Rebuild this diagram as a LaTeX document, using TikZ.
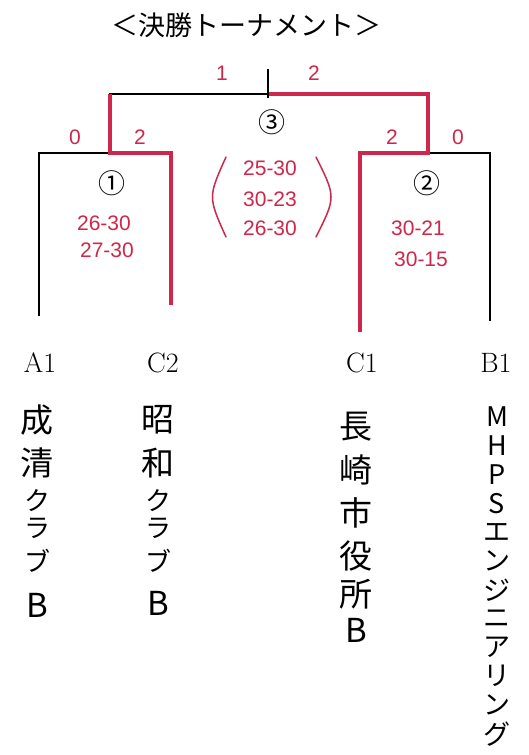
\documentclass[tikz,border=0pt]{standalone}
\usepackage{fontspec}
\newfontfamily\jp{Noto Sans CJK JP}
\newfontfamily\hand{Liberation Sans}
\definecolor{redpen}{RGB}{205,40,75}
\begin{document}
\begin{tikzpicture}[x=1pt,y=-1pt,
  blk/.style={line width=2pt, black, line join=miter},
  win/.style={line width=4pt, redpen, line join=miter},
  score/.style={text=redpen, font=\hand\fontsize{21}{23}\selectfont, inner sep=0pt},
  circ/.style={font=\jp\fontsize{27}{29}\selectfont, inner sep=0pt},
  team/.style={font=\fontsize{28}{30}\selectfont, inner sep=0pt},
  namech/.style={font=\jp\fontsize{33}{35}\selectfont, inner sep=0pt},
  kana/.style={font=\jp\fontsize{26}{28}\selectfont, inner sep=0pt},
  namesm/.style={font=\jp\fontsize{27}{29}\selectfont, inner sep=0pt},
  paren/.style={redpen, line width=1.5pt, line cap=round}]
\useasboundingbox (0,0) rectangle (528,755);
\fill[white] (0,0) rectangle (528,755);

% title
\node[font=\jp\fontsize{27}{30}\selectfont, inner sep=0pt] (title) at (246,25) {＜決勝トーナメント＞};

% bracket coordinates
\coordinate (m1L) at (39,153);
\coordinate (m1R) at (171,153);
\coordinate (m1mid) at (110,153);
\coordinate (a1end) at (39,316);
\coordinate (c2end) at (171,305);
\coordinate (m2L) at (360,153);
\coordinate (m2R) at (490,153);
\coordinate (m2mid) at (428,153);
\coordinate (c1end) at (360,332);
\coordinate (b1end) at (490,321);
\coordinate (fL) at (110,94);
\coordinate (fR) at (428,94);
\coordinate (fmid) at (268,94);
\coordinate (ftop) at (268,69);

% black lines
\draw[blk] (a1end) -- (m1L) -- (m1R);
\draw[blk] (m2L) -- (m2R) -- (b1end);
\draw[blk] (m1mid) -- (fL) -- (fR) -- (m2mid);
\draw[blk] (ftop) -- (fmid);

% winners (red)
\draw[win] (c2end) -- (m1R) -- (m1mid) -- (fL);
\draw[win] (fmid) -- (fR) -- (m2mid) -- (m2L) -- (c1end);
\draw[blk] (ftop) -- ([yshift=-4pt]fmid);

% set scores
\node[score] (f1) at (222,73) {1};
\node[score] (f2) at (314,73) {2};
\node[score] (s1a) at (75,137) {0};
\node[score] (s1b) at (140,137) {2};
\node[score] (s2a) at (392,137) {2};
\node[score] (s2b) at (458,137) {0};

% match numbers
\node[circ] (n1) at (112,183) {①};
\node[circ] (n3) at (272,122) {③};
\node[circ] (n2) at (427,183) {②};

% game scores
\node[score] (g1a) at (104,223) {26-30};
\node[score] (g1b) at (107,250) {27-30};
\node[score] (g3a) at (270,168) {25-30};
\node[score] (g3b) at (270,199) {30-23};
\node[score] (g3c) at (270,228) {26-30};
\node[score] (g2a) at (418,228) {30-21};
\node[score] (g2b) at (421,259) {30-15};

% parentheses
\coordinate (pl1) at (226,157);
\coordinate (pl2) at (208,197);
\coordinate (pl3) at (226,237);
\coordinate (pr1) at (316,157);
\coordinate (pr2) at (336,197);
\coordinate (pr3) at (316,237);
\draw[paren] (pl1) .. controls (pl2) .. (pl3);
\draw[paren] (pr1) .. controls (pr2) .. (pr3);

% team codes
\node[team] (A1) at (40,363) {A1};
\node[team] (C2) at (163,363) {C2};
\node[team] (C1) at (362,363) {C1};
\node[team] (B1) at (496,363) {B1};

% team names (vertical)
\node[namech] (na1) at (37,420) {成};
\node[namech] (na2) at (37,463) {清};
\node[kana]   (na3) at (37,501) {ク};
\node[kana]   (na4) at (37,528) {ラ};
\node[kana]   (na5) at (37,561) {ブ};
\node[namech] (na6) at (37,605) {B};

\node[namech] (nb1) at (158,420) {昭};
\node[namech] (nb2) at (158,463) {和};
\node[kana]   (nb3) at (158,501) {ク};
\node[kana]   (nb4) at (158,528) {ラ};
\node[kana]   (nb5) at (158,561) {ブ};
\node[namech] (nb6) at (158,603) {B};

\foreach \c/\y [count=\i] in {長/427,崎/470,市/513,役/556,所/594,B/630}
  \node[namech] (nc\i) at (356,\y) {\c};
\foreach \c [count=\i] in {M,H,P,S,エ,ン,ジ,ニ,ア,リ,ン,グ}
  \node[namesm] (nd\i) at (497,{417+(\i-1)*28.8}) {\c};
\end{tikzpicture}
\end{document}
